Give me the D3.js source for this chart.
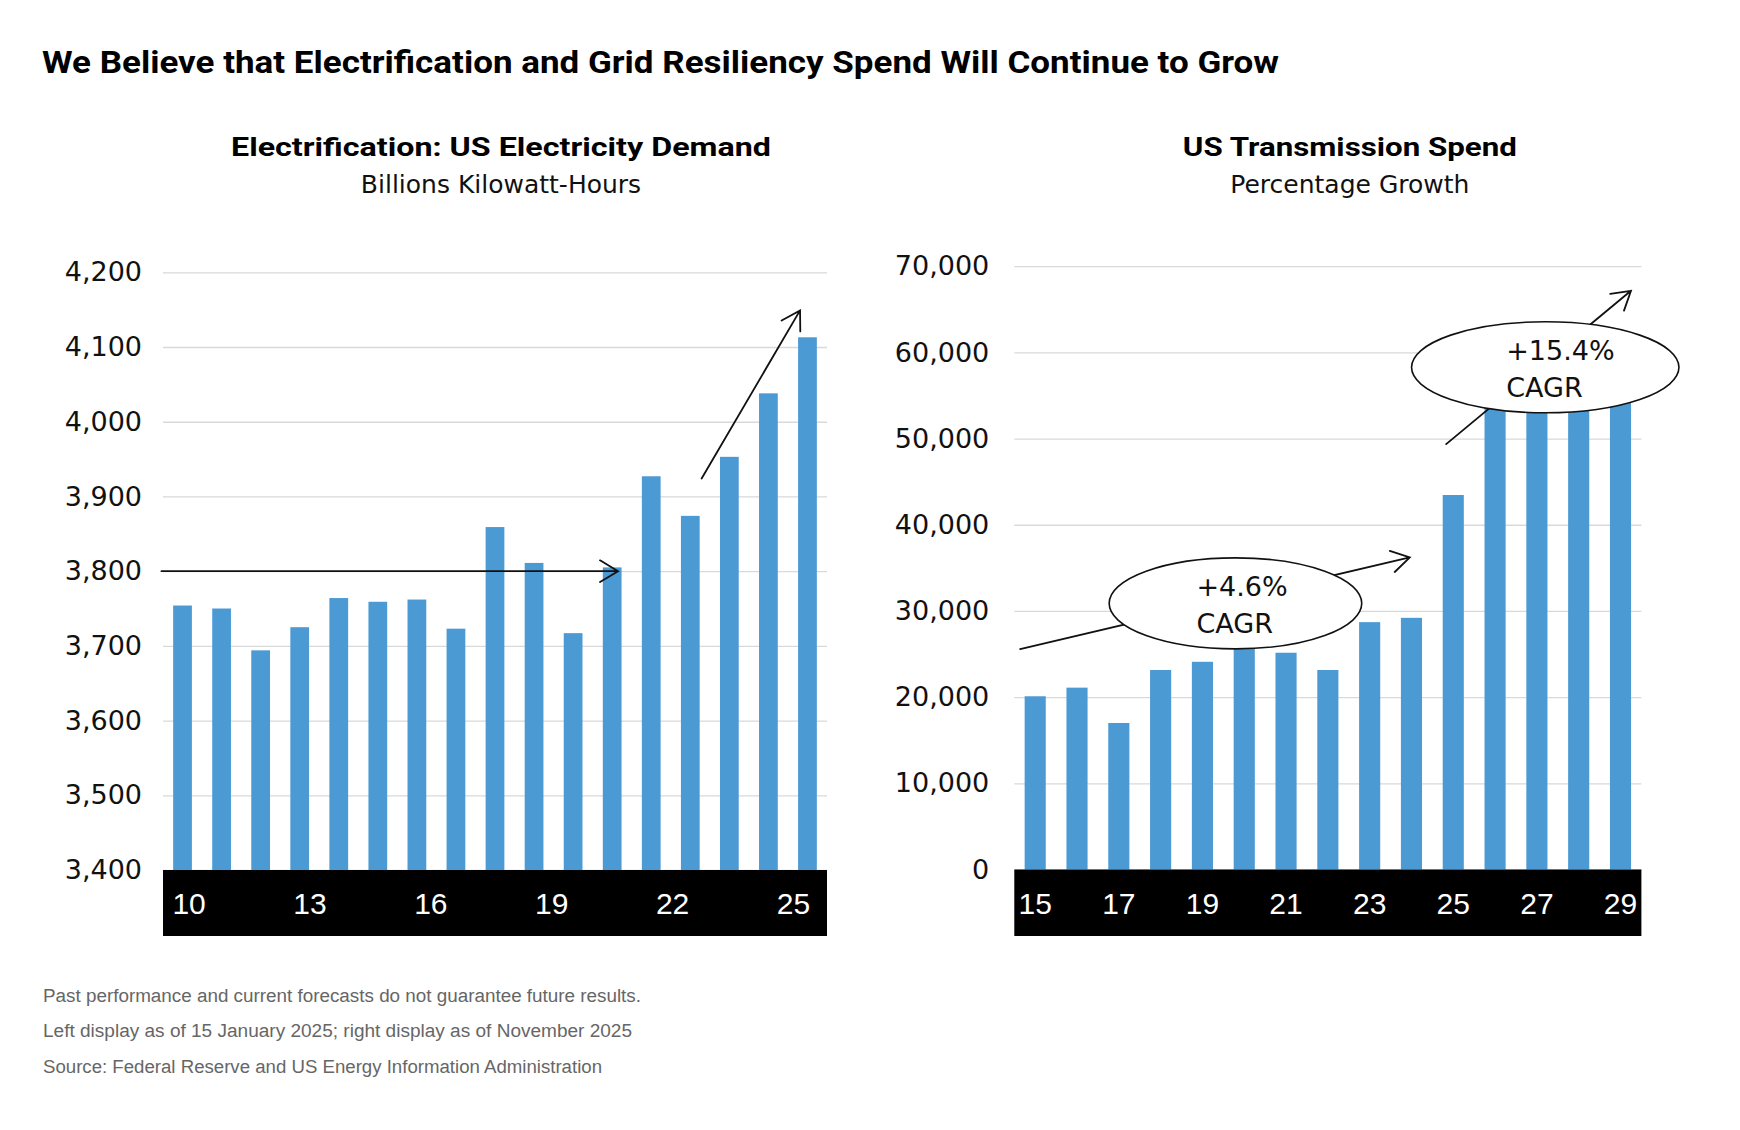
<!DOCTYPE html>
<html>
<head>
<meta charset="utf-8">
<script src="https://cdn.jsdelivr.net/npm/d3@7"></script>
<style>
    body { margin: 0; background: #fff; }
    .grid line { stroke: #d9d9d9; stroke-width: 1.3; }
    .grid .domain { display: none; }
    .grid text { fill: #111; }
    .bar { fill: #4b9ad4; }
    .band { fill: #000; }
    .xlabels .domain, .xlabels line { display: none; }
    .xlabels text { fill: #fff; }
    .arrow { fill: none; stroke: #111; stroke-width: 1.8; stroke-linecap: round; }
    .bubble { fill: #fff; stroke: #111; stroke-width: 1.6; }
</style>
</head>
<body>
<svg id="plate" width="1740" height="1130"></svg>
<script>
// left panel - US electricity demand (billions kWh)
var demandYears = [2010, 2011, 2012, 2013, 2014, 2015, 2016, 2017, 2018, 2019, 2020, 2021, 2022, 2023, 2024, 2025, 2026];
var demandValues = [3754, 3750, 3694, 3725, 3764, 3759, 3762, 3723, 3859, 3811, 3717, 3805, 3927, 3874, 3953, 4038, 4113];
var demandTicks = [3400, 3500, 3600, 3700, 3800, 3900, 4000, 4100, 4200];
var demandLabels = [2010, 2013, 2016, 2019, 2022, 2025];

// right panel - US transmission spend
var spendYears = [2015, 2016, 2017, 2018, 2019, 2020, 2021, 2022, 2023, 2024, 2025, 2026, 2027, 2028, 2029];
var spendValues = [20100, 21100, 17000, 23150, 24100, 25800, 25150, 23150, 28700, 29200, 43450, 56000, 58000, 60000, 61500];
var spendTicks = [0, 10000, 20000, 30000, 40000, 50000, 60000, 70000];
var spendLabels = [2015, 2017, 2019, 2021, 2023, 2025, 2027, 2029];

// annotations, x in bar index units, y in data units
var demandArrows = [
    {x0: -0.54, y0: 3800, x1: 11.15, y1: 3800},
    {x0: 13.29, y0: 3924, x1: 15.81, y1: 4149}
];
var spendArrows = [
    {x0: -0.36, y0: 25580, x1: 8.96, y1: 36220},
    {x0: 9.83, y0: 49360, x1: 14.25, y1: 67150}
];
var spendBubbles = [
    {x: 4.79, y: 30880, lines: ['+4.6%', 'CAGR']},
    {x: 12.2, y: 58270, lines: ['+15.4%', 'CAGR']}
];

var title = 'We Believe that Electrification and Grid Resiliency Spend Will Continue to Grow';
var notes = [
    'Past performance and current forecasts do not guarantee future results.',
    'Left display as of 15 January 2025; right display as of November 2025',
    'Source: Federal Reserve and US Energy Information Administration'
];

var svg = d3.select('#plate');
var numFont = '"DejaVu Sans", sans-serif';
var labelFont = '"Liberation Sans", Arial, sans-serif';
var boldFont = 'Roboto, "Liberation Sans", sans-serif';

// page title
svg.append('text')
    .attr('x', 42)
    .attr('y', 73)
    .attr('font-family', boldFont)
    .attr('font-weight', 700)
    .attr('font-size', 32)
    .attr('textLength', 1237)
    .attr('lengthAdjust', 'spacingAndGlyphs')
    .text(title);

// footnotes
svg.selectAll('.note')
    .data(notes)
    .enter().append('text')
    .attr('class', 'note')
    .attr('x', 43)
    .attr('y', function(d, i) { return 1001.5 + i * 35.8; })
    .attr('font-family', labelFont)
    .attr('font-size', 18)
    .attr('fill', '#666')
    .attr('textLength', function(d, i) { return [598, 589, 559][i]; })
    .attr('lengthAdjust', 'spacingAndGlyphs')
    .text(function(d) { return d; });

function drawArrow(g, x1, y1, x2, y2) {
    var ang = Math.atan2(y2 - y1, x2 - x1);
    var len = 21, spread = 31 * Math.PI / 180;
    var p = d3.path();
    p.moveTo(x1, y1);
    p.lineTo(x2, y2);
    p.moveTo(x2 - len * Math.cos(ang - spread), y2 - len * Math.sin(ang - spread));
    p.lineTo(x2, y2);
    p.lineTo(x2 - len * Math.cos(ang + spread), y2 - len * Math.sin(ang + spread));
    g.append('path').attr('class', 'arrow').attr('d', p.toString());
}

function panel(opt) {
    var g = svg.append('g');
    var left = opt.range[0], right = opt.range[1];

    // headings
    g.append('text')
        .attr('x', (left + right) / 2 + opt.headShift)
        .attr('y', 156)
        .attr('text-anchor', 'middle')
        .attr('font-family', boldFont)
        .attr('font-weight', 700)
        .attr('font-size', 25)
        .attr('textLength', opt.headWidth)
        .attr('lengthAdjust', 'spacingAndGlyphs')
        .text(opt.head);
    g.append('text')
        .attr('x', (left + right) / 2 + opt.headShift)
        .attr('y', 193)
        .attr('text-anchor', 'middle')
        .attr('font-family', numFont)
        .attr('font-size', 25)
        .attr('fill', '#111')
        .text(opt.sub);

    var x = d3.scaleBand()
        .domain(opt.years)
        .range(opt.range)
        .paddingInner(opt.pad)
        .paddingOuter(opt.pad / 2);
    var y = d3.scaleLinear().domain(opt.domain).range([opt.base, opt.top]);

    // bar index -> centre of bar, used for the annotations
    var xi = d3.scaleLinear()
        .domain([0, opt.years.length - 1])
        .range([x(opt.years[0]) + x.bandwidth() / 2, x(opt.years[opt.years.length - 1]) + x.bandwidth() / 2]);

    // gridlines + y labels
    g.append('g')
        .attr('class', 'grid')
        .attr('transform', 'translate(' + left + ',0)')
        .call(d3.axisLeft(y)
            .tickValues(opt.ticks)
            .tickSize(-(right - left))
            .tickPadding(opt.tickPad)
            .tickFormat(d3.format(',')))
        .attr('font-family', numFont)
        .attr('font-size', 27);

    g.selectAll('.bar')
        .data(opt.years)
        .enter().append('rect')
        .attr('class', 'bar')
        .attr('x', function(d) { return x(d); })
        .attr('width', x.bandwidth())
        .attr('y', function(d, i) { return y(opt.values[i]); })
        .attr('height', function(d, i) { return y(opt.domain[0]) - y(opt.values[i]); });

    // black category strip
    g.append('rect')
        .attr('class', 'band')
        .attr('x', left)
        .attr('y', y(opt.domain[0]))
        .attr('width', right - left)
        .attr('height', 936 - y(opt.domain[0]));

    g.append('g')
        .attr('class', 'xlabels')
        .attr('transform', 'translate(0,' + y(opt.domain[0]) + ')')
        .call(d3.axisBottom(opt.labelScale ? opt.labelScale : x)
            .tickValues(opt.labels)
            .tickSize(0)
            .tickPadding(23)
            .tickFormat(function(d) { return String(d).slice(2); }))
        .attr('font-family', labelFont)
        .attr('font-size', 30);

    opt.arrows.forEach(function(a) {
        drawArrow(g, xi(a.x0), y(a.y0), xi(a.x1), y(a.y1));
    });

    (opt.bubbles || []).forEach(function(b) {
        var cx = xi(b.x), cy = y(b.y);
        g.append('ellipse')
            .attr('class', 'bubble')
            .attr('cx', cx)
            .attr('cy', cy)
            .attr('rx', opt.rx[0])
            .attr('ry', 45.5);
        g.append('text')
            .attr('font-family', numFont)
            .attr('font-size', 27)
            .attr('fill', '#111')
            .selectAll('tspan')
            .data(b.lines)
            .enter().append('tspan')
            .attr('x', cx - 39)
            .attr('y', function(d, i) { return cy - 7.5 + i * 37; })
            .text(function(d) { return d; });
        opt.rx.shift();
    });
}

panel({
    head: 'Electrification: US Electricity Demand',
    headWidth: 540,
    headShift: 6,
    sub: 'Billions Kilowatt-Hours',
    years: demandYears,
    values: demandValues,
    ticks: demandTicks,
    labels: demandLabels,
    labelScale: d3.scaleLinear().domain([2010, 2025]).range([188.6, 793]),
    domain: [3400, 4200],
    range: [163, 827],
    base: 870,
    top: 272.3,
    pad: 0.52,
    tickPad: 21,
    arrows: demandArrows
});

panel({
    head: 'US Transmission Spend',
    headWidth: 334,
    headShift: 22,
    sub: 'Percentage Growth',
    years: spendYears,
    values: spendValues,
    ticks: spendTicks,
    labels: spendLabels,
    domain: [0, 70000],
    range: [1014.3, 1641.4],
    base: 869.5,
    top: 266.2,
    pad: 0.495,
    tickPad: 25,
    arrows: spendArrows,
    bubbles: spendBubbles,
    rx: [126.3, 133.7]
});
</script>
</body>
</html>
